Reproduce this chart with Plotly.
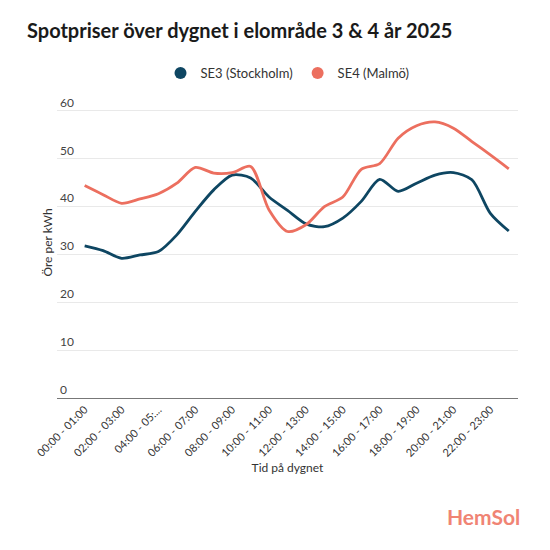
import plotly.graph_objects as go

hours = [f"{h:02d}:00 - {h+1:02d}:00" for h in range(24)]
se3 = [31.8, 30.8, 29.2, 29.9, 30.6, 34.1, 39.0, 43.5, 46.6, 46.0, 42.0, 39.2,
       36.4, 35.8, 37.6, 41.1, 45.7, 43.2, 44.9, 46.6, 47.1, 45.6, 38.6, 34.9]
se4 = [44.4, 42.5, 40.7, 41.6, 42.7, 44.9, 48.2, 47.0, 47.1, 48.4, 39.3, 34.8,
       36.2, 40.0, 42.0, 47.8, 49.0, 54.3, 56.9, 57.7, 56.4, 53.6, 50.8, 47.9]
tick_labels = ["00:00 - 01:00", "02:00 - 03:00", "04:00 - 05:...", "06:00 - 07:00",
               "08:00 - 09:00", "10:00 - 11:00", "12:00 - 13:00", "14:00 - 15:00",
               "16:00 - 17:00", "18:00 - 19:00", "20:00 - 21:00", "22:00 - 23:00"]
y_ticks = [0, 10, 20, 30, 40, 50, 60]

C3 = "#0e4662"
C4 = "#ec6f5f"
FONT = "Lato"

fig = go.Figure()
fig.add_trace(go.Scatter(x=hours, y=se3, name="SE3 (Stockholm)", mode="lines", showlegend=False,
                         line=dict(color=C3, width=2.8, shape="spline", smoothing=0.8)))
fig.add_trace(go.Scatter(x=hours, y=se4, name="SE4 (Malmö)", mode="lines", showlegend=False,
                         line=dict(color=C4, width=2.8, shape="spline", smoothing=0.8)))
# legend entries with round symbols
fig.add_trace(go.Scatter(x=[None], y=[None], name="SE3 (Stockholm)", mode="markers",
                         marker=dict(color=C3, size=13, symbol="circle")))
fig.add_trace(go.Scatter(x=[None], y=[None], name="SE4 (Malmö)", mode="markers",
                         marker=dict(color=C4, size=13, symbol="circle")))

fig.update_layout(
    width=550, height=550,
    margin=dict(l=57, r=32, t=87, b=152, autoexpand=False),
    paper_bgcolor="white", plot_bgcolor="white",
    font=dict(family=FONT, color="#333333", size=12),
    title=dict(text="<b>Spotpriser över dygnet i elområde 3 & 4 år 2025</b>",
               x=27/550, xanchor="left", y=1-31/550, yanchor="middle",
               font=dict(family=FONT, size=20, color="#1a1a1a")),
    legend=dict(orientation="h", x=0.5, xanchor="center", y=1-73/550, yref="container",
                yanchor="middle", font=dict(size=13, color="#333333"),
                itemsizing="constant", itemwidth=30),
    showlegend=True,
)
fig.update_xaxes(
    type="category", range=[-1.5, 23.5],
    tickvals=hours[::2], ticktext=tick_labels, tickangle=-45,
    tickfont=dict(size=11, color="#333333"),
    showgrid=False, showline=True, linecolor="#777777", linewidth=1,
    ticks="", title=dict(text="Tid på dygnet", font=dict(size=12, color="#333333"), standoff=5),
    fixedrange=True,
)
fig.update_yaxes(
    range=[0, 65], tickvals=y_ticks, ticklabelposition="inside top",
    tickfont=dict(size=12, color="#444444"),
    showgrid=True, gridcolor="#e9e9e9", gridwidth=1, zeroline=False,
    showline=False, ticks="",
    title=dict(text="Öre per kWh", font=dict(size=12, color="#333333"), standoff=4),
)
fig.add_annotation(text="<b>HemSol</b>", xref="paper", yref="paper",
                   x=1 + 4/461, xanchor="right", y=-(516-398)/311, yanchor="middle",
                   showarrow=False, font=dict(family=FONT, size=21, color="#f08474"))
fig.write_html("out.html")
